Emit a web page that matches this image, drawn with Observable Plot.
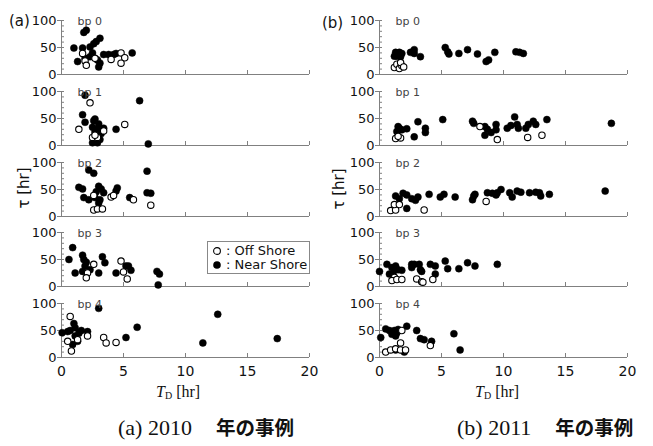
<!DOCTYPE html>
<html><head><meta charset="utf-8">
<script src="https://cdn.jsdelivr.net/npm/d3@7"></script>
<script src="https://cdn.jsdelivr.net/npm/@observablehq/plot@0.6"></script>
<style>
body{margin:0;background:#fff;}
#wrap{position:relative;width:653px;height:446px;overflow:hidden;font-family:"DejaVu Sans",sans-serif;color:#111;}
.panel{position:absolute;}
.cap{position:absolute;white-space:nowrap;transform:translateY(-50%);}
.cap .lat{font-family:"Liberation Serif",serif;font-size:22px;}
.cap .cjk{font-family:"Noto Sans CJK JP",sans-serif;font-size:19.5px;font-weight:bold;margin-left:24px;}
.xt{position:absolute;white-space:nowrap;font-family:"Liberation Serif",serif;font-size:16px;transform:translateY(-50%);}
.yt{position:absolute;white-space:nowrap;font-size:15px;transform:translate(-50%,-50%) rotate(-90deg);}
.tag{position:absolute;font-size:15px;transform:translateY(-50%);}
#legend{position:absolute;left:207px;top:241px;width:101px;height:31px;border:1px solid #888;background:#fff;font-size:13px;}
#legend div{position:absolute;left:4px;display:flex;align-items:center;white-space:nowrap;}
</style>
</head><body>
<div id="wrap"></div>
<script>
// panel labels and x ticks
const bpLabels = ["bp 0", "bp 1", "bp 2", "bp 3", "bp 4"];
const xTicks = [0, 5, 10, 15, 20];
const yTicks = [0, 50, 100];

// 2010 (a) : [T_D, tau]
const a0_near = [[1.0,49],[1.7,49],[1.8,78],[2.0,82],[2.3,51],[2.6,57],[2.8,61],[3.1,67],[1.3,24],[2.3,33],[2.9,27],[3.1,21],[3.0,14],[3.4,37],[3.8,37],[4.2,37],[4.4,39],[5.7,40],[1.9,30],[2.5,40]];
const a0_off  = [[1.7,39],[1.9,25],[2.0,17],[2.7,30],[4.0,28],[4.8,40],[5.1,31],[4.8,21]];
const a1_near = [[1.9,93],[6.3,83],[1.7,57],[1.9,43],[2.6,46],[2.7,49],[3.0,40],[2.5,34],[2.9,30],[3.4,32],[4.4,30],[2.6,14],[3.1,11],[2.9,5],[2.5,5],[7.0,3],[3.2,22],[2.7,25]];
const a1_off  = [[2.3,79],[1.4,30],[5.1,39],[2.5,15],[2.9,15],[3.4,27],[2.7,19]];
const a2_near = [[2.2,86],[2.6,80],[6.9,84],[1.4,54],[1.7,51],[3.0,56],[3.2,51],[4.5,53],[4.4,47],[1.8,35],[2.2,31],[2.7,35],[3.1,31],[3.0,25],[3.4,44],[5.5,35],[6.9,44],[7.2,43],[2.8,46]];
const a2_off  = [[2.6,39],[4.0,36],[4.2,39],[5.8,31],[7.2,21],[2.6,12],[2.9,14],[3.3,14]];
const a3_near = [[0.9,72],[0.6,50],[1.7,58],[1.8,50],[3.3,55],[3.5,44],[1.1,25],[1.7,28],[2.3,31],[3.0,25],[1.9,38],[4.4,25],[5.2,38],[5.4,38],[5.6,30],[7.7,28],[7.9,23],[7.8,3],[2.0,45]];
const a3_off  = [[2.6,41],[2.1,25],[2.0,16],[4.8,47],[5.0,27],[5.3,14]];
const a4_near = [[3.0,91],[12.6,80],[6.1,56],[5.2,37],[11.4,27],[17.4,35],[0.05,46],[0.5,48],[1.0,63],[1.1,55],[1.1,40],[1.3,30],[0.9,24],[1.6,50],[2.1,48],[0.7,50],[1.4,45]];
const a4_off  = [[0.7,76],[0.8,12],[0.5,30],[1.3,33],[2.1,40],[3.4,37],[3.6,27],[4.4,28]];

// 2011 (b)
const b0_near = [[1.3,41],[1.6,41],[1.8,39],[1.4,34],[1.7,33],[1.2,34],[1.5,38],[2.5,41],[2.8,46],[2.8,39],[3.3,33],[5.3,50],[5.5,42],[5.6,38],[6.4,39],[7.1,46],[7.9,38],[8.6,24],[8.8,27],[9.3,41],[11.0,42],[11.3,41],[11.6,39]];
const b0_off  = [[1.2,13],[1.4,19],[1.6,11],[1.8,16],[1.7,22],[1.95,14]];
const b1_near = [[5.1,48],[18.7,41],[1.6,32],[1.4,26],[1.8,29],[2.2,31],[1.5,35],[3.1,44],[2.8,16],[3.7,32],[3.7,24],[7.5,45],[7.6,41],[8.5,35],[8.7,30],[8.5,19],[9.0,24],[9.4,39],[9.4,29],[10.3,32],[10.6,37],[10.9,53],[11.1,39],[11.2,32],[11.8,32],[12.0,39],[12.4,45],[12.6,39],[13.5,48]];
const b1_off  = [[1.3,13],[1.7,14],[1.5,17],[8.1,35],[9.5,11],[11.95,15],[13.1,19]];
const b2_near = [[1.3,38],[1.6,33],[1.9,43],[2.2,40],[2.6,33],[3.1,36],[2.2,15],[4.0,41],[4.9,36],[5.2,41],[6.1,36],[7.5,31],[7.6,38],[7.7,41],[8.7,44],[9.1,43],[9.5,44],[9.8,50],[9.4,40],[10.5,44],[10.7,36],[11.1,47],[11.4,45],[12.1,44],[12.6,45],[12.9,44],[13.0,38],[13.7,41],[18.2,47],[2.9,30]];
const b2_off  = [[0.9,11],[1.3,12],[1.2,22],[1.6,22],[3.6,12],[8.6,28]];
const b3_near = [[0.0,28],[0.6,41],[1.0,35],[1.2,30],[1.5,31],[1.8,30],[0.8,23],[1.1,21],[1.3,38],[2.6,41],[2.8,41],[3.2,41],[2.6,35],[3.3,31],[3.4,28],[4.1,41],[4.5,38],[4.5,23],[5.3,47],[5.5,33],[6.4,33],[7.1,44],[7.7,38],[9.5,41]];
const b3_off  = [[1.2,17],[1.0,11],[1.4,13],[1.8,13],[3.0,14],[3.4,9],[3.5,8],[4.3,13]];
const b4_near = [[0.1,37],[0.5,53],[0.8,50],[1.2,50],[1.0,43],[1.4,46],[1.3,40],[1.5,52],[2.2,58],[3.0,50],[3.3,35],[3.6,33],[4.2,30],[6.0,44],[6.5,14],[1.3,14],[2.0,10]];
const b4_off  = [[1.8,50],[1.7,27],[0.5,10],[0.9,14],[1.3,16],[1.7,14],[2.1,14],[4.1,22]];

const colA = [[a0_near,a0_off],[a1_near,a1_off],[a2_near,a2_off],[a3_near,a3_off],[a4_near,a4_off]];
const colB = [[b0_near,b0_off],[b1_near,b1_off],[b2_near,b2_off],[b3_near,b3_off],[b4_near,b4_off]];

const axisColor = "#808080";
const wrap = document.getElementById("wrap");

function panel(near, off, label, bottom) {
  const marks = [
    Plot.ruleY([0], {stroke: axisColor}),
    Plot.ruleX([0], {stroke: axisColor}),
    Plot.axisY({ticks: d3.range(0, 101, 10), tickSize: -3, text: null, label: null, stroke: axisColor}),
    Plot.axisY({ticks: yTicks, tickSize: 4, tickPadding: 1, fontSize: 13, label: null, stroke: axisColor, fill: "#111"}),
    Plot.axisX({ticks: xTicks, tickSize: -4, text: null, label: null, stroke: axisColor}),
    Plot.dot(near, {x: d => d[0], y: d => d[1], r: 3.5, fill: "black", stroke: "black", strokeWidth: 0.5}),
    Plot.dot(off, {x: d => d[0], y: d => d[1], r: 3.2, fill: "white", stroke: "black", strokeWidth: 1.1}),
    Plot.text([label], {frameAnchor: "top-left", dx: 16, dy: -3, textAnchor: "start", fontSize: 11, fill: "#444"})
  ];
  if (bottom) marks.push(Plot.axisX({ticks: xTicks, tickSize: 0, tickPadding: 9, fontSize: 14, label: null, fill: "#111"}));
  return Plot.plot({
    width: 330, height: bottom ? 100 : 76,
    marginLeft: 61, marginRight: 21, marginTop: 20, marginBottom: bottom ? 26 : 2,
    x: {domain: [0, 20]}, y: {domain: [0, 100]},
    style: {background: "none", overflow: "visible", fontFamily: "DejaVu Sans", color: "#111"},
    marks
  });
}

[[colA, 0], [colB, 318]].forEach(([col, left]) => {
  col.forEach(([near, off], i) => {
    const svg = panel(near, off, bpLabels[i], i === 4);
    svg.classList.add("panel");
    svg.style.left = left + "px";
    svg.style.top = (i * 70.8) + "px";
    wrap.appendChild(svg);
  });
});

function add(cls, html, css) {
  const d = document.createElement("div");
  d.className = cls; d.innerHTML = html;
  Object.assign(d.style, css);
  wrap.appendChild(d);
}
add("tag", "(a)", {left: "9px", top: "21px"});
add("tag", "(b)", {left: "322px", top: "23px"});
add("yt", "τ [hr]", {left: "24px", top: "188px"});
add("yt", "τ [hr]", {left: "339px", top: "189px"});
add("xt", "<i>T</i><span style='font-size:10px;vertical-align:-2px'>D</span> [hr]", {left: "156px", top: "392px"});
add("xt", "<i>T</i><span style='font-size:10px;vertical-align:-2px'>D</span> [hr]", {left: "475px", top: "392px"});
add("cap", "<span class='lat'>(a) 2010</span><span class='cjk'>年の事例</span>", {left: "118px", top: "426px"});
add("cap", "<span class='lat'>(b) 2011</span><span class='cjk'>年の事例</span>", {left: "457px", top: "426px"});

const leg = document.createElement("div");
leg.id = "legend";
leg.innerHTML =
  "<div style='top:1px'><svg width='10' height='12'><circle cx='5' cy='6' r='3.4' fill='white' stroke='black' stroke-width='1.1'/></svg><span style='margin-left:4px'>: Off Shore</span></div>" +
  "<div style='top:15px'><svg width='10' height='12'><circle cx='5' cy='6' r='3.8' fill='black'/></svg><span style='margin-left:4px'>: Near Shore</span></div>";
wrap.appendChild(leg);
</script>
</body></html>
